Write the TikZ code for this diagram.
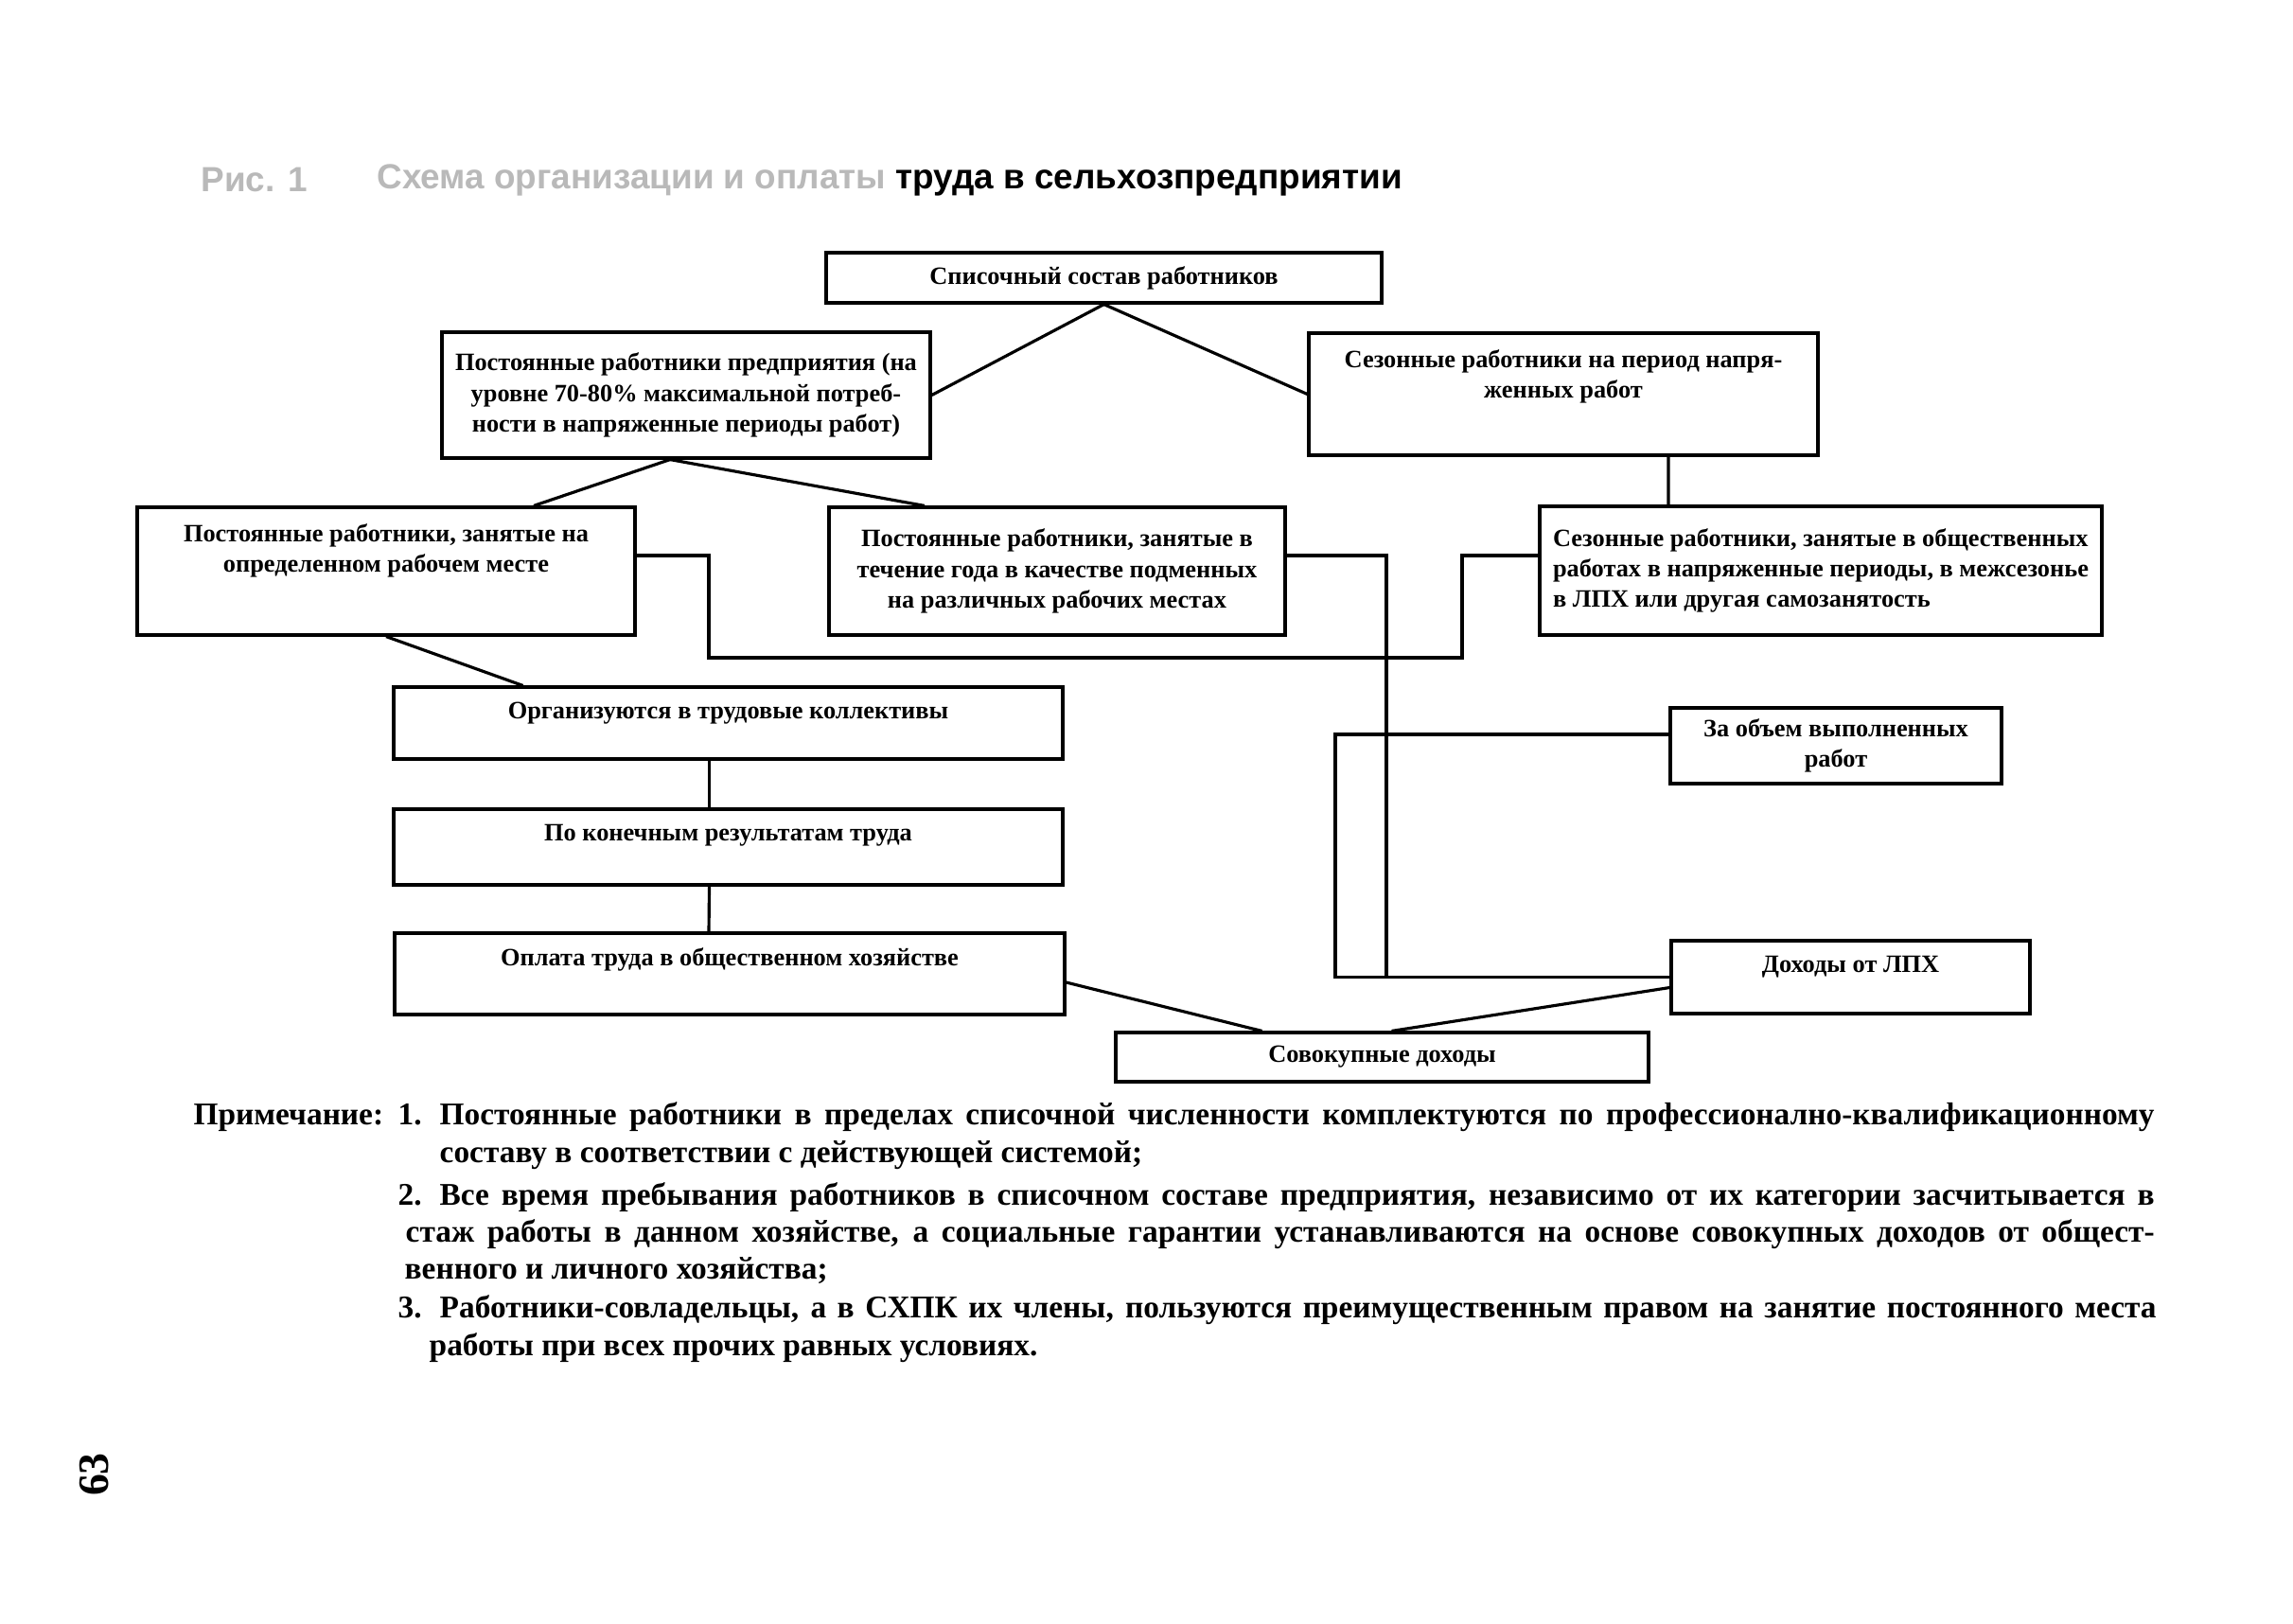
\documentclass[tikz,border=0pt]{standalone}
\usepackage{fontspec}
\setmainfont{Liberation Serif}
\newfontfamily\titlefont{Liberation Sans}
\usepackage{xcolor}
\usepackage{tikz}
\usetikzlibrary{positioning, calc}

\begin{document}
\begin{tikzpicture}[
    box/.style={draw, line width=0.9pt, align=center, inner sep=2pt, font=\fontsize{7.5}{9.2}\selectfont\bfseries},
    lift/.style={text depth=#1},
    note/.style={anchor=base west, inner sep=0pt, font=\fontsize{9.5}{11}\selectfont\bfseries},
    wire/.style={line width=0.9pt}
  ]
  \useasboundingbox (0,0) rectangle (24.23,-17.15);

  % title
  \node[anchor=west, font=\titlefont\fontsize{10.5}{12}\selectfont\bfseries, text=gray!55] (fignum) at (2.0,-1.9) {Рис. 1};
  \node[anchor=west, font=\titlefont\fontsize{10.5}{12}\selectfont\bfseries] (title) at (3.86,-1.9) {\textcolor{gray!55}{Схема организации и оплаты} труда в сельхозпредприятии};

  % boxes
  \node[box, minimum width=5.87cm, minimum height=0.53cm] (list) at (11.665,-2.935) {Списочный состав работников};
  \node[box, minimum width=5.16cm, minimum height=1.33cm] (perm) at (7.25,-4.175) {Постоянные работники предприятия (на\\уровне 70-80\% максимальной потреб-\\ности в напряженные периоды работ)};
  \node[box, minimum width=5.38cm, minimum height=1.29cm, lift=0.43cm] (seas) at (16.52,-4.165) {Сезонные работники на период напря-\\женных работ};
  \node[box, minimum width=5.26cm, minimum height=1.35cm, lift=0.49cm] (fixed) at (4.08,-6.035) {Постоянные работники, занятые на\\определенном рабочем месте};
  \node[box, minimum width=4.82cm, minimum height=1.35cm] (relief) at (11.17,-6.035) {Постоянные работники, занятые в\\течение года в качестве подменных\\на различных рабочих местах};
  \node[box, align=left, minimum width=5.94cm, minimum height=1.36cm] (seaswork) at (19.24,-6.03) {Сезонные работники, занятые в общественных\\работах в напряженные периоды, в межсезонье\\в ЛПХ или другая самозанятость};
  \node[box, minimum width=7.07cm, minimum height=0.76cm, lift=0.27cm] (teams) at (7.695,-7.64) {Организуются в трудовые коллективы};
  \node[box, minimum width=7.07cm, minimum height=0.80cm, lift=0.31cm] (result) at (7.695,-8.95) {По конечным результатам труда};
  \node[box, minimum width=7.08cm, minimum height=0.86cm, lift=0.35cm] (pay) at (7.71,-10.29) {Оплата труда в общественном хозяйстве};
  \node[box, minimum width=3.50cm, minimum height=0.80cm] (volume) at (19.40,-7.88) {За объем выполненных\\работ};
  \node[box, minimum width=3.79cm, minimum height=0.77cm, lift=0.27cm] (lph) at (19.555,-10.325) {Доходы от ЛПХ};
  \node[box, minimum width=5.63cm, minimum height=0.52cm] (sum) at (14.605,-11.17) {Совокупные доходы};

  % junctions
  \coordinate (jl) at (7.49,-6.95);
  \coordinate (jr) at (15.45,-6.95);
  \coordinate (jv) at (14.65,-10.325);
  \coordinate (jw) at (14.11,-10.325);

  % connectors
  \draw[wire] (list.south) -- (perm.east);
  \draw[wire] (list.south) -- (seas.west);
  \draw[wire] ($(perm.south)+(-0.17,0)$) -- ($(fixed.north)+(1.56,0)$);
  \draw[wire] ($(perm.south)+(-0.17,0)$) -- ($(relief.north)+(-1.4,0)$);
  \draw[wire] ($(seas.south)+(1.11,0)$) -- ($(seaswork.north)+(-1.61,0)$);
  \draw[wire] ($(fixed.east)+(0,0.165)$) -| (jl) -- (jr) |- ($(seaswork.west)+(0,0.16)$);
  \draw[wire] (fixed.south) -- ($(teams.north)+(-2.17,0)$);
  \draw[wire] ($(relief.east)+(0,0.165)$) -| (jv);
  \draw[wire] ($(volume.west)+(0,0.12)$) -| (jw) -- (lph.west);
  \draw[wire] ($(teams.south)+(-0.2,0)$) -- ($(result.north)+(-0.2,0)$);
  \draw[wire] ($(result.south)+(-0.2,0)$) -- ($(pay.north)+(-0.22,0)$);
  \draw[wire] ($(pay.east)+(0,-0.09)$) -- ($(sum.north)+(-1.27,0)$);
  \draw[wire] ($(lph.west)+(0,-0.11)$) -- ($(sum.north)+(0.1,0)$);

  % notes
  \node[note] (pr) at (2.04,-11.88) {Примечание:};
  \node[note] (n1) at (4.20,-11.88) {1.};
  \node[note] (l1) at (4.64,-11.88) {\makebox[18.12cm][s]{Постоянные работники в пределах списочной численности комплектуются по профессионално-квалификационному}};
  \node[note] (l2) at (4.64,-12.28) {составу в соответствии с действующей системой;};
  \node[note] (n2) at (4.20,-12.73) {2.};
  \node[note] (l3) at (4.64,-12.73) {\makebox[18.12cm][s]{Все время пребывания работников в списочном составе предприятия, независимо от их категории засчитывается в}};
  \node[note] (l4) at (4.28,-13.12) {\makebox[18.48cm][s]{стаж работы в данном хозяйстве, а социальные гарантии устанавливаются на основе совокупных доходов от общест-}};
  \node[note] (l5) at (4.27,-13.51) {венного и личного хозяйства;};
  \node[note] (n3) at (4.20,-13.92) {3.};
  \node[note] (l6) at (4.64,-13.92) {\makebox[18.14cm][s]{Работники-совладельцы, а в СХПК их члены, пользуются преимущественным правом на занятие постоянного места}};
  \node[note] (l7) at (4.53,-14.32) {работы при всех прочих равных условиях.};

  \node[rotate=90, font=\fontsize{13}{13}\selectfont\bfseries] (page) at (1.0,-15.58) {63};
\end{tikzpicture}
\end{document}
